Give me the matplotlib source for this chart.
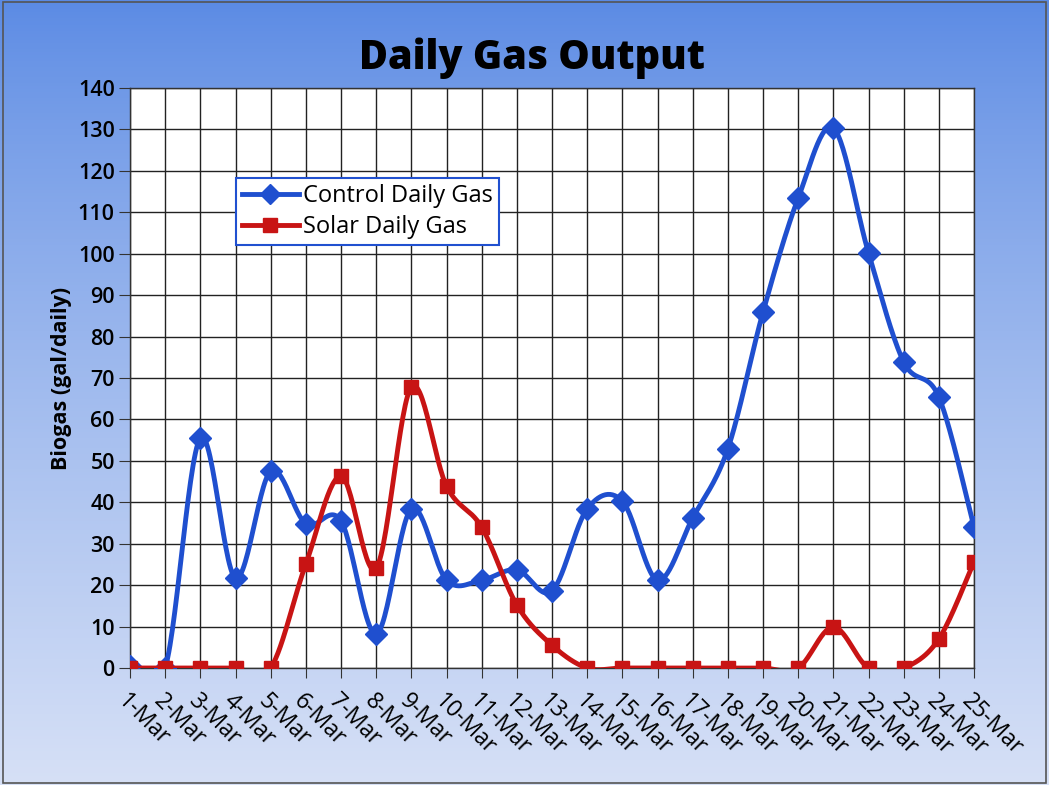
import numpy as np
import matplotlib
matplotlib.use("Agg")
import matplotlib.pyplot as plt
from matplotlib.lines import Line2D

dates = ["1-Mar", "2-Mar", "3-Mar", "4-Mar", "5-Mar", "6-Mar", "7-Mar", "8-Mar", "9-Mar",
         "10-Mar", "11-Mar", "12-Mar", "13-Mar", "14-Mar", "15-Mar", "16-Mar", "17-Mar",
         "18-Mar", "19-Mar", "20-Mar", "21-Mar", "22-Mar", "23-Mar", "24-Mar", "25-Mar"]
control = [0.5, 0, 55.5, 21.7, 47.5, 34.8, 35.5, 8.2, 38.4, 21.2, 21.2, 23.7, 18.6,
           38.4, 40.3, 21.2, 36.2, 52.9, 85.9, 113.4, 130.3, 100.2, 73.9, 65.4, 34.0]
solar = [0, 0, 0, 0, 0, 25.1, 46.3, 24.1, 67.8, 43.9, 34.0, 15.2, 5.5,
         0, 0, 0, 0, 0, 0, 0, 9.9, 0, 0, 7.0, 25.6]

plt.rcParams['font.family'] = ['Open Sans', 'DejaVu Sans']


def smooth(x, y, n=30, tension=0.5):
    x = np.asarray(x, float); y = np.asarray(y, float)
    px = np.concatenate([[x[0]], x, [x[-1]]])
    py = np.concatenate([[y[0]], y, [y[-1]]])
    xs, ys = [], []
    for i in range(1, len(px) - 2):
        p0, p1, p2, p3 = (np.array([px[j], py[j]]) for j in (i - 1, i, i + 1, i + 2))
        c1 = p1 + (p2 - p0) * tension / 3
        c2 = p2 - (p3 - p1) * tension / 3
        t = np.linspace(0, 1, n)[:, None]
        b = (1 - t) ** 3 * p1 + 3 * (1 - t) ** 2 * t * c1 + 3 * (1 - t) * t ** 2 * c2 + t ** 3 * p2
        xs.append(b[:, 0]); ys.append(b[:, 1])
    return np.concatenate(xs), np.concatenate(ys)


fig = plt.figure(figsize=(10.49, 7.85), dpi=100)

# background gradient
bg = fig.add_axes([0, 0, 1, 1], zorder=-10)
top = np.array([90, 138, 228]) / 255
bot = np.array([214, 224, 246]) / 255
t = np.linspace(0, 1, 256)[:, None, None]
t = t ** 0.8
grad = top * (1 - t) + bot * t
grad = np.repeat(grad, 4, axis=1)
bg.imshow(grad, aspect='auto', extent=[0, 1, 0, 1])
bg.set_xlim(0, 1); bg.set_ylim(0, 1)
bg.axis('off')
fig.patches.append(plt.Rectangle((0.003, 0.003), 0.994, 0.994, transform=fig.transFigure,
                                 fill=False, edgecolor='#555555', linewidth=1.2))

ax = fig.add_axes([130 / 1049, 1 - 668 / 785, 844 / 1049, 580 / 785])
ax.set_facecolor('white')
x = np.arange(len(dates))

blue = '#1f4fcf'
red = '#c81414'
sx, sy = smooth(x, control)
ax.plot(sx, sy, color=blue, lw=3.5, zorder=3, solid_capstyle='round')
ax.plot(x, control, linestyle='none', marker='D', markersize=11, color=blue, zorder=4)
sx, sy = smooth(x, solar)
ax.plot(sx, sy, color=red, lw=3.5, zorder=5, solid_capstyle='round')
ax.plot(x, solar, linestyle='none', marker='s', markersize=10.5, color=red, zorder=6)

ax.set_xlim(0, 24)
ax.set_ylim(0, 140)
ax.set_yticks(np.arange(0, 141, 10))
ax.set_xticks(x)
ax.set_xticklabels(dates, rotation=-45, ha='left', va='top', rotation_mode='anchor',
                   fontsize=16.5)
ax.tick_params(axis='x', length=7, color='#333333', pad=8)
ax.tick_params(axis='y', length=8, color='#333333', labelsize=15.5, pad=3)
for lab in ax.get_yticklabels():
    lab.set_fontweight('semibold')
ax.grid(True, color='#222222', linewidth=1.0)
ax.set_axisbelow(True)
for s in ax.spines.values():
    s.set_color('#333333'); s.set_linewidth(1.0)

ax.set_ylabel('Biogas (gal/daily)', fontsize=15.5, fontweight='bold', labelpad=4)
fig.text(532 / 1049, 1 - 58 / 785, 'Daily Gas Output', ha='center', va='center',
         fontsize=28.5, fontweight='heavy')

handles = [Line2D([], [], color=blue, lw=3.5, marker='D', markersize=10),
           Line2D([], [], color=red, lw=3.5, marker='s', markersize=10)]
leg = ax.legend(handles, ['Control Daily Gas', 'Solar Daily Gas'], loc='upper left',
                bbox_to_anchor=((236 - 130) / 844, (668 - 178) / 580), fontsize=17,
                frameon=True, fancybox=False, borderpad=0.25, labelspacing=0.3,
                handlelength=2.4, handletextpad=0.2, borderaxespad=0)
leg.get_frame().set_edgecolor('#2050d0')
leg.get_frame().set_linewidth(1.5)
leg.get_frame().set_alpha(1)

fig.savefig('out.png', dpi=100)
